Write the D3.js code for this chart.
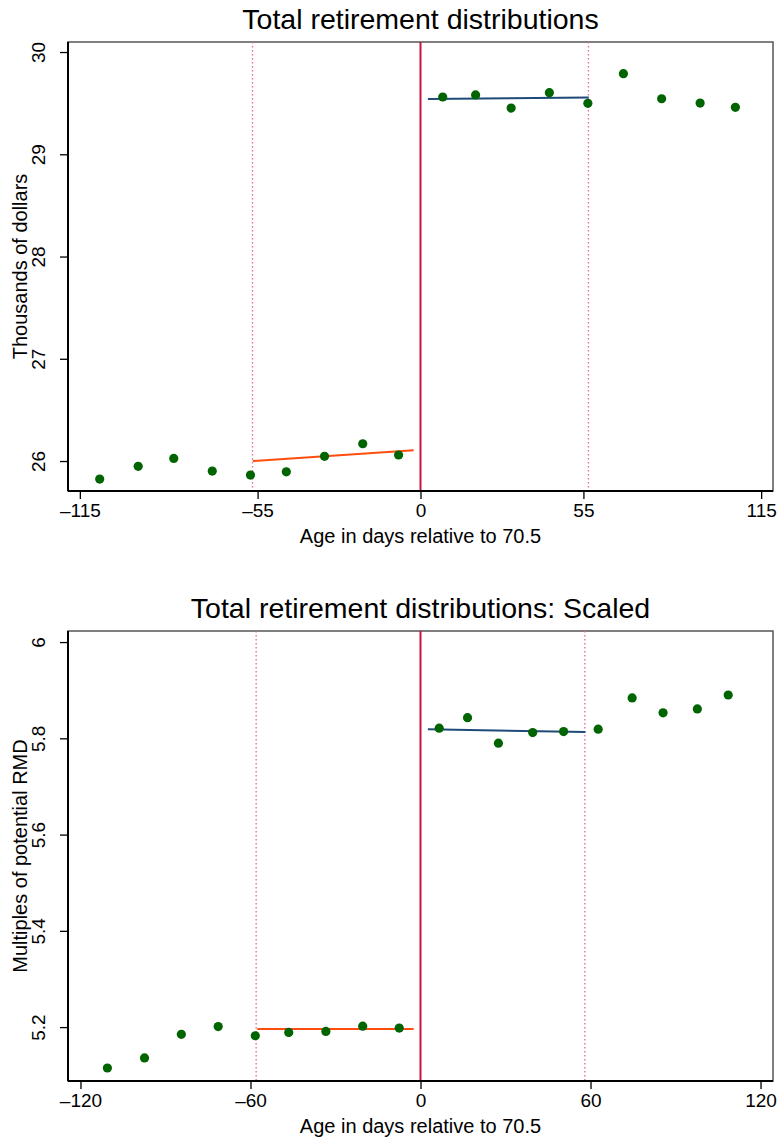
<!DOCTYPE html>
<html>
<head>
<meta charset="utf-8">
<script src="https://cdn.jsdelivr.net/npm/d3@7"></script>
<style>
  html, body { margin: 0; padding: 0; background: #fff; }
  svg { display: block; font-family: "Liberation Sans", Arial, Helvetica, sans-serif; }
</style>
</head>
<body>
<svg id="chart" width="781" height="1137"></svg>
<script>
// ---- Panel 1: total retirement distributions (thousands of dollars) ----
const p1Title = "Total retirement distributions";
const p1YTitle = "Thousands of dollars";
const p1XTicks = [-115, -55, 0, 55, 115];
const p1YTicks = [26, 27, 28, 29, 30];
const p1LeftX  = [-108.3, -95.3, -83.3, -70.3, -57.4, -45.3, -32.4, -19.5, -7.4];
const p1LeftY  = [25.824, 25.948, 26.026, 25.902, 25.863, 25.895, 26.046, 26.169, 26.059];
const p1RightX = [7.5, 18.6, 30.6, 43.5, 56.5, 68.5, 81.4, 94.4, 106.3];
const p1RightY = [29.56, 29.58, 29.452, 29.602, 29.498, 29.788, 29.543, 29.501, 29.459];
const p1FitLeftX  = [-56.6, -2.3];
const p1FitLeftY  = [26.0, 26.105];
const p1FitRightX = [2.5, 56.8];
const p1FitRightY = [29.54, 29.555];
const p1Bandwidth = 56.7;
const p1XDomain = [-119, 119];
const p1YDomain = [25.707, 30.098];

// ---- Panel 2: scaled by potential RMD ----
const p2Title = "Total retirement distributions: Scaled";
const p2YTitle = "Multiples of potential RMD";
const p2XTicks = [-120, -60, 0, 60, 120];
const p2YTicks = [5.2, 5.4, 5.6, 5.8, 6];
const p2LeftX  = [-110.5, -97.4, -84.4, -71.4, -58.3, -46.5, -33.4, -20.4, -7.5];
const p2LeftY  = [5.115, 5.136, 5.185, 5.201, 5.182, 5.189, 5.191, 5.202, 5.198];
const p2RightX = [6.6, 16.6, 27.5, 39.6, 50.5, 62.7, 74.7, 85.6, 97.7, 108.6];
const p2RightY = [5.821, 5.843, 5.790, 5.812, 5.814, 5.819, 5.884, 5.853, 5.861, 5.890];
const p2FitLeftX  = [-57.6, -2.4];
const p2FitLeftY  = [5.196, 5.196];
const p2FitRightX = [2.6, 58.2];
const p2FitRightY = [5.819, 5.813];
const p2Bandwidth = 58;
const p2XDomain = [-124.4, 124.4];
const p2YDomain = [5.088, 6.023];

const xTitle = "Age in days relative to 70.5";

const svg = d3.select("#chart");
const fmtTick = v => (v < 0 ? "\u2013" + Math.abs(v) : String(v));

function panel(cfg) {
  const g = svg.append("g");
  const x = d3.scaleLinear().domain(cfg.xDomain).range([cfg.left, cfg.right]);
  const y = d3.scaleLinear().domain(cfg.yDomain).range([cfg.bottom, cfg.top]);

  // plot region frame
  g.append("rect")
    .attr("x", cfg.left).attr("y", cfg.top)
    .attr("width", cfg.right - cfg.left).attr("height", cfg.bottom - cfg.top)
    .attr("fill", "none").attr("stroke", "#555").attr("stroke-width", 1.5);

  // cutoff and bandwidth reference lines
  [-cfg.bandwidth, cfg.bandwidth].forEach(b => {
    g.append("line")
      .attr("x1", x(b)).attr("x2", x(b))
      .attr("y1", cfg.top).attr("y2", cfg.bottom)
      .attr("stroke", "#e8668f").attr("stroke-width", 1.3)
      .attr("stroke-dasharray", "1.5,2.5");
  });
  g.append("line")
    .attr("x1", x(0)).attr("x2", x(0))
    .attr("y1", cfg.top).attr("y2", cfg.bottom)
    .attr("stroke", "#c8143c").attr("stroke-width", 2);

  // x axis
  const xAxis = d3.axisBottom(x).tickValues(cfg.xTicks).tickFormat(fmtTick)
    .tickSize(8).tickPadding(5);
  const xa = g.append("g").attr("transform", `translate(0,${cfg.bottom})`).call(xAxis);
  xa.select(".domain").attr("stroke", "#000").attr("stroke-width", 2)
    .attr("d", `M${cfg.left},0H${cfg.right}`);
  xa.selectAll(".tick line").attr("stroke", "#000").attr("stroke-width", 1.3);
  xa.selectAll(".tick text").attr("font-size", 19).attr("fill", "#000")
    .attr("font-family", "Liberation Sans, Arial, sans-serif");

  // y axis with rotated labels
  const yAxis = d3.axisLeft(y).tickValues(cfg.yTicks).tickFormat(d => String(+d.toFixed(1)))
    .tickSize(8).tickPadding(0);
  const ya = g.append("g").attr("transform", `translate(${cfg.left},0)`).call(yAxis);
  ya.select(".domain").attr("stroke", "#000").attr("stroke-width", 2)
    .attr("d", `M0,${cfg.top}V${cfg.bottom}`);
  ya.selectAll(".tick line").attr("stroke", "#000").attr("stroke-width", 1.3);
  ya.selectAll(".tick text")
    .attr("x", null).attr("dy", null)
    .attr("text-anchor", "middle")
    .attr("transform", "translate(-23,0) rotate(-90)")
    .attr("font-size", 19).attr("fill", "#000")
    .attr("font-family", "Liberation Sans, Arial, sans-serif");

  // fitted lines
  const line = d3.line().x(d => x(d[0])).y(d => y(d[1]));
  g.append("path")
    .datum(cfg.fitLeftX.map((v, i) => [v, cfg.fitLeftY[i]]))
    .attr("d", line).attr("fill", "none")
    .attr("stroke", "#ff4c0f").attr("stroke-width", 2);
  g.append("path")
    .datum(cfg.fitRightX.map((v, i) => [v, cfg.fitRightY[i]]))
    .attr("d", line).attr("fill", "none")
    .attr("stroke", "#1f4a78").attr("stroke-width", 2);

  // binned means
  const pts = cfg.leftX.map((v, i) => [v, cfg.leftY[i]])
    .concat(cfg.rightX.map((v, i) => [v, cfg.rightY[i]]));
  g.selectAll("circle.pt").data(pts).enter().append("circle")
    .attr("class", "pt")
    .attr("cx", d => x(d[0])).attr("cy", d => y(d[1]))
    .attr("r", 4.6).attr("fill", "#006400");

  // titles
  const cx = (cfg.left + cfg.right) / 2;
  g.append("text").attr("x", cx).attr("y", cfg.titleY)
    .attr("text-anchor", "middle").attr("font-size", 28.5).attr("fill", "#000")
    .text(cfg.title);
  g.append("text").attr("x", cx).attr("y", cfg.bottom + 52)
    .attr("text-anchor", "middle").attr("font-size", 20).attr("fill", "#000")
    .text(xTitle);
  g.append("text")
    .attr("transform", `translate(27,${(cfg.top + cfg.bottom) / 2}) rotate(-90)`)
    .attr("text-anchor", "middle").attr("font-size", 20).attr("fill", "#000")
    .text(cfg.yTitle);
}

panel({
  title: p1Title, yTitle: p1YTitle, titleY: 29,
  left: 68, right: 773, top: 42, bottom: 491,
  xDomain: p1XDomain, yDomain: p1YDomain,
  xTicks: p1XTicks, yTicks: p1YTicks,
  leftX: p1LeftX, leftY: p1LeftY, rightX: p1RightX, rightY: p1RightY,
  fitLeftX: p1FitLeftX, fitLeftY: p1FitLeftY, fitRightX: p1FitRightX, fitRightY: p1FitRightY,
  bandwidth: p1Bandwidth
});

panel({
  title: p2Title, yTitle: p2YTitle, titleY: 618,
  left: 68, right: 773, top: 631, bottom: 1081,
  xDomain: p2XDomain, yDomain: p2YDomain,
  xTicks: p2XTicks, yTicks: p2YTicks,
  leftX: p2LeftX, leftY: p2LeftY, rightX: p2RightX, rightY: p2RightY,
  fitLeftX: p2FitLeftX, fitLeftY: p2FitLeftY, fitRightX: p2FitRightX, fitRightY: p2FitRightY,
  bandwidth: p2Bandwidth
});
</script>
</body>
</html>
